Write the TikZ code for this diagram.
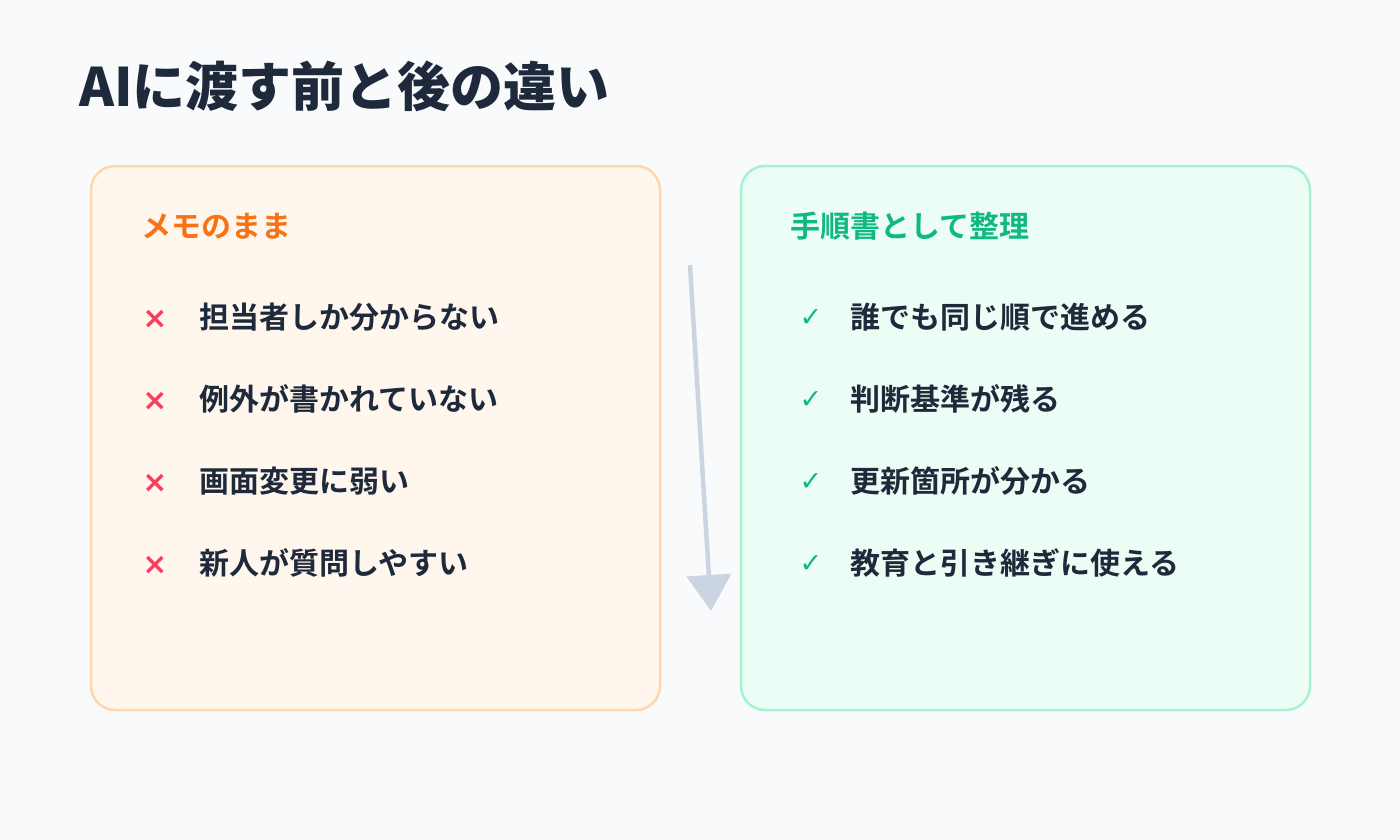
\documentclass[tikz,border=0pt]{standalone}
\usepackage{fontspec}
\setmainfont[BoldFont={Noto Sans CJK JP Bold}]{Noto Sans CJK JP}
\newfontfamily\blackfont{Noto Sans CJK JP Black}
\newfontfamily\symfont{DejaVu Sans}
\usetikzlibrary{arrows.meta}

\definecolor{pagebg}{HTML}{F8FAFC}
\definecolor{ink}{HTML}{1E293B}
\definecolor{memofill}{HTML}{FFF7ED}
\definecolor{memoline}{HTML}{FED7AA}
\definecolor{memohead}{HTML}{F97316}
\definecolor{okfill}{HTML}{ECFDF5}
\definecolor{okline}{HTML}{A7F3D0}
\definecolor{okgreen}{HTML}{10B981}
\definecolor{ngred}{HTML}{F43F5E}
\definecolor{flowgray}{HTML}{CBD5E1}

\begin{document}
\begin{tikzpicture}[x=1pt, y=-1pt,
  panel/.style={line width=2.5pt, rounded corners=24pt},
  headtext/.style={anchor=west, inner sep=0pt, font=\bfseries\fontsize{30}{34}\selectfont},
  itemtext/.style={anchor=west, inner sep=0pt, text=ink, font=\bfseries\fontsize{30}{34}\selectfont},
  ngmark/.style={inner sep=0pt, text=ngred, font=\symfont\bfseries\fontsize{30}{34}\selectfont},
  okmark/.style={inner sep=0pt, text=okgreen, font=\symfont\fontsize{27}{30}\selectfont}]
  % page and the two panels
  \fill[pagebg] (0,0) rectangle (1400,840);
  \draw[panel, draw=memoline, fill=memofill] (91,166) rectangle (660,710);
  \draw[panel, draw=okline, fill=okfill] (741,166) rectangle (1310,710);

  \node[anchor=west, inner sep=0pt, text=ink, font=\blackfont\fontsize{53}{60}\selectfont] (title) at (79,86) {AIに渡す前と後の違い};

  % before: memo as it is
  \node[headtext, text=memohead] (memohead) at (141,226) {メモのまま};
  \node[ngmark] (ng1) at (155,319) {×};
  \node[ngmark] (ng2) at (155,401) {×};
  \node[ngmark] (ng3) at (155,483) {×};
  \node[ngmark] (ng4) at (155,565) {×};
  \node[itemtext] (memo1) at (199,317) {担当者しか分からない};
  \node[itemtext] (memo2) at (199,399) {例外が書かれていない};
  \node[itemtext] (memo3) at (199,481) {画面変更に弱い};
  \node[itemtext] (memo4) at (199,563) {新人が質問しやすい};

  % after: written up as a procedure
  \node[headtext, text=okgreen] (okhead) at (790,226) {手順書として整理};
  \node[okmark] (ok1) at (811,318) {✓};
  \node[okmark] (ok2) at (811,400) {✓};
  \node[okmark] (ok3) at (811,482) {✓};
  \node[okmark] (ok4) at (811,564) {✓};
  \node[itemtext] (proc1) at (850,317) {誰でも同じ順で進める};
  \node[itemtext] (proc2) at (850,399) {判断基準が残る};
  \node[itemtext] (proc3) at (850,481) {更新箇所が分かる};
  \node[itemtext] (proc4) at (850,563) {教育と引き継ぎに使える};

  % arrow between the panels
  \coordinate (flowtop) at (690,265);
  \coordinate (flowtip) at (711,611);
  \draw[-{Triangle[width=44pt,length=36pt]}, line width=4.5pt, draw=flowgray, fill=flowgray] (flowtop) -- (flowtip);
\end{tikzpicture}
\end{document}
